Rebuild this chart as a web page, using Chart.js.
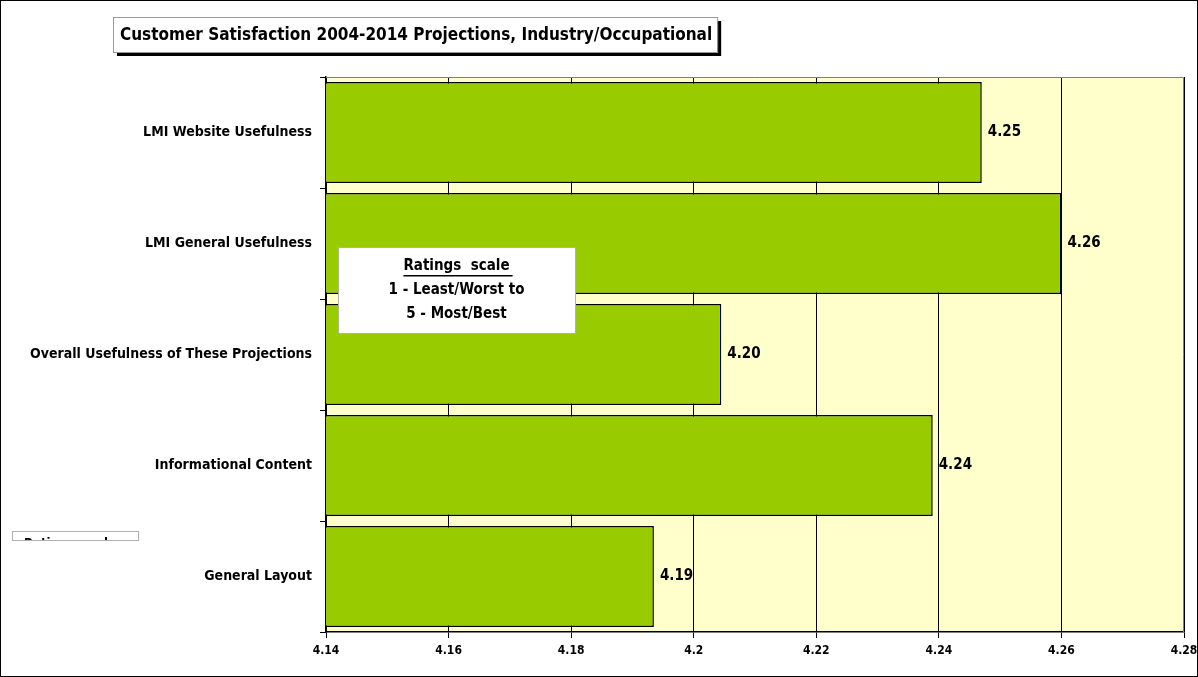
<!DOCTYPE html>
<html lang="en">
<head>
    <meta charset="UTF-8">
    <title>Customer Satisfaction 2004-2014 Projections</title>
    <script src="https://cdn.jsdelivr.net/npm/chart.js"></script>
    <style>
        body { margin: 0; background: #ffffff; }
        #wrap { width: 1198px; height: 677px; position: relative; }
    </style>
</head>
<body>
<div id="wrap"><canvas id="satChart" width="1198" height="677"></canvas></div>
<script>
    // chart data
    const categories = ["LMI Website Usefulness", "LMI General Usefulness", "Overall Usefulness of These Projections", "Informational Content", "General Layout"];
    const ratings = [4.247, 4.260, 4.2045, 4.239, 4.1935];
    const xMin = 4.14, xMax = 4.28, xStep = 0.02;
    const chartTitle = "Customer Satisfaction 2004-2014 Projections, Industry/Occupational";
    const noteLines = ["Ratings  scale", "1 - Least/Worst to", "5 - Most/Best"];

    const FONT = "'DejaVu Sans Condensed', 'DejaVu Sans', sans-serif";

    const decorations = {
        id: "decorations",
        beforeDraw(chart) {
            const ctx = chart.ctx, a = chart.chartArea;
            ctx.save();
            ctx.fillStyle = "#ffffff";
            ctx.fillRect(0, 0, chart.width, chart.height);
            ctx.fillStyle = "#ffffcc";
            ctx.fillRect(a.left, a.top, a.right - a.left, a.bottom - a.top);
            ctx.restore();
        },
        afterDatasetsDraw(chart) {
            const ctx = chart.ctx, a = chart.chartArea;
            ctx.save();
            // plot frame, top & right
            ctx.strokeStyle = "#808080";
            ctx.lineWidth = 1;
            ctx.beginPath();
            ctx.moveTo(a.left, a.top + 0.5);
            ctx.lineTo(a.right - 0.5, a.top + 0.5);
            ctx.lineTo(a.right - 0.5, a.bottom);
            ctx.stroke();

            // data labels
            ctx.fillStyle = "#000";
            ctx.font = "bold 15px " + FONT;
            ctx.textBaseline = "middle";
            chart.getDatasetMeta(0).data.forEach((bar, i) => {
                ctx.fillText(ratings[i].toFixed(2), bar.x + 6, bar.y);
            });

            // title box with shadow
            ctx.font = "bold 17px " + FONT;
            const tw = ctx.measureText(chartTitle).width;
            const bx = 113, by = 17, bw = Math.max(603, tw + 12), bh = 35;
            ctx.fillStyle = "#000";
            ctx.fillRect(bx + 4, by + 4, bw, bh);
            ctx.fillStyle = "#fff";
            ctx.fillRect(bx, by, bw, bh);
            ctx.strokeStyle = "#9a9a9a";
            ctx.strokeRect(bx + 0.5, by + 0.5, bw, bh);
            ctx.fillStyle = "#000";
            ctx.textAlign = "left";
            ctx.fillText(chartTitle, bx + 7, by + bh / 2 + 1);

            // ratings scale note
            const nx = 338, ny = 247, nw = 237, nh = 86;
            ctx.fillStyle = "#fff";
            ctx.fillRect(nx, ny, nw, nh);
            ctx.strokeStyle = "#b0b0b0";
            ctx.strokeRect(nx + 0.5, ny + 0.5, nw, nh);
            ctx.fillStyle = "#000";
            ctx.font = "bold 15px " + FONT;
            ctx.textAlign = "center";
            const cx = nx + nw / 2;
            noteLines.forEach((t, i) => {
                ctx.fillText(t, cx, ny + 19 + i * 24);
            });
            const uw = ctx.measureText(noteLines[0]).width;
            ctx.fillRect(cx - uw / 2, ny + 28, uw + 3, 1.5);

            // clipped legend remnant
            ctx.save();
            ctx.fillStyle = "#fff";
            ctx.fillRect(12, 531, 126, 9);
            ctx.strokeStyle = "#b0b0b0";
            ctx.strokeRect(12.5, 531.5, 126, 9);
            ctx.beginPath();
            ctx.rect(13, 532, 125, 8);
            ctx.clip();
            ctx.fillStyle = "#000";
            ctx.font = "bold 13px " + FONT;
            ctx.textAlign = "center";
            ctx.fillText("Ratings  scale", 70, 544);
            ctx.restore();

            // outer frame
            ctx.strokeStyle = "#000";
            ctx.lineWidth = 1;
            ctx.strokeRect(0.5, 0.5, chart.width - 1, chart.height - 1);
            ctx.restore();
        }
    };

    new Chart(document.getElementById("satChart").getContext("2d"), {
        type: "bar",
        data: {
            labels: categories,
            datasets: [{
                data: ratings,
                backgroundColor: "#99cc00",
                borderColor: "#000000",
                borderWidth: 1.5,
                borderSkipped: false,
                barPercentage: 0.91,
                categoryPercentage: 1
            }]
        },
        options: {
            indexAxis: "y",
            responsive: false,
            animation: false,
            layout: { padding: { top: 77, right: 14, left: 0, bottom: 0 } },
            plugins: { legend: { display: false }, tooltip: { enabled: false } },
            scales: {
                x: {
                    min: xMin,
                    max: xMax,
                    afterFit: s => { s.height = 45; s.paddingLeft = 0; s.paddingRight = 0; },
                    afterBuildTicks: s => {
                        const t = [];
                        for (let i = 0; i <= Math.round((xMax - xMin) / xStep); i++) t.push({ value: +(xMin + i * xStep).toFixed(2) });
                        s.ticks = t;
                    },
                    grid: { color: "#000", lineWidth: 1, tickLength: 6, drawOnChartArea: true },
                    border: { color: "#000", width: 1.5 },
                    ticks: {
                        color: "#000",
                        padding: 6,
                        font: { family: FONT, size: 12, weight: "bold" },
                        callback: v => String(+v.toFixed(2))
                    }
                },
                y: {
                    afterFit: s => { s.width = 326; s.paddingTop = 0; s.paddingBottom = 0; },
                    grid: { offset: true, drawOnChartArea: false, color: "#000", tickLength: 6 },
                    border: { color: "#000", width: 1.5 },
                    ticks: {
                        color: "#000",
                        padding: 8,
                        font: { family: FONT, size: 14, weight: "bold" }
                    }
                }
            }
        },
        plugins: [decorations]
    });
</script>
</body>
</html>
